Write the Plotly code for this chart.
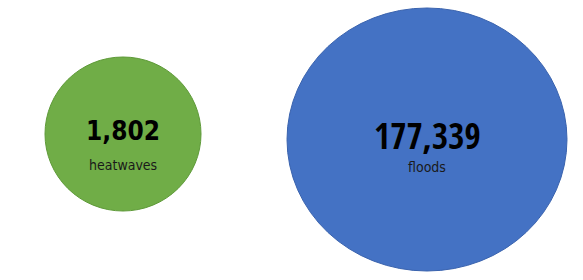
import plotly.graph_objects as go

# Data
categories = ["heatwaves", "floods"]
values = [1802, 177339]
fill_colors = ["#70AD47", "#4472C4"]
line_colors = ["#5E9A38", "#3A63AE"]

# Layout (positions in pixel-like axis units)
W, H = 583, 280
bubbles = [
    dict(x0=45, x1=201, y0=57, y1=211),
    dict(x0=287, x1=567, y0=8, y1=271),
]
value_font_sizes = [26, 35]
value_fonts = ["DejaVu Sans Condensed, sans-serif",
               "Open Sans Condensed, DejaVu Sans Condensed, sans-serif"]
label_font_sizes = [14, 14]
value_offsets = [-3, -4]
label_offsets = [31, 27]

LABEL_FONT = "DejaVu Sans Condensed, sans-serif"

fig = go.Figure()
shapes = []
annotations = []
for i, cat in enumerate(categories):
    b = bubbles[i]
    cx = (b["x0"] + b["x1"]) / 2
    cy = (b["y0"] + b["y1"]) / 2
    shapes.append(dict(type="circle", xref="x", yref="y",
                       x0=b["x0"], x1=b["x1"], y0=b["y0"], y1=b["y1"],
                       fillcolor=fill_colors[i],
                       line=dict(color=line_colors[i], width=1),
                       layer="below"))
    annotations.append(dict(x=cx, y=cy + value_offsets[i], xref="x", yref="y",
                            text=f"<b>{values[i]:,}</b>", showarrow=False,
                            xanchor="center", yanchor="middle",
                            font=dict(family=value_fonts[i], size=value_font_sizes[i], color="#000000")))
    annotations.append(dict(x=cx, y=cy + label_offsets[i], xref="x", yref="y",
                            text=cat, showarrow=False,
                            xanchor="center", yanchor="middle",
                            font=dict(family=LABEL_FONT, size=label_font_sizes[i], color="#1a1a1a")))

fig.add_trace(go.Scatter(x=[None], y=[None], showlegend=False))
fig.update_layout(
    width=W, height=H,
    margin=dict(l=0, r=0, t=0, b=0),
    paper_bgcolor="white", plot_bgcolor="white",
    xaxis=dict(range=[0, W], visible=False, fixedrange=True),
    yaxis=dict(range=[H, 0], visible=False, fixedrange=True),
    shapes=shapes, annotations=annotations,
    showlegend=False,
)
fig.write_html("out.html", config=dict(displayModeBar=False))
